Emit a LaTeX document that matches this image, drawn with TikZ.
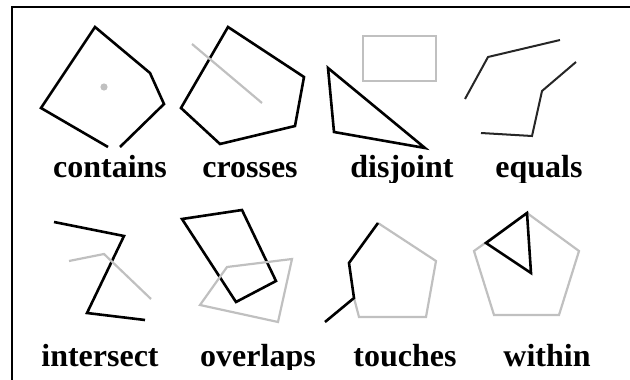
\documentclass[tikz,border=0pt]{standalone}
\usepackage{fontspec}
\setmainfont{Liberation Serif}
\definecolor{lightgrey}{RGB}{192,192,192}
\tikzset{
  shp/.style={line width=2.6pt, line join=miter},
  greyshp/.style={line width=2.2pt, draw=lightgrey},
  word/.style={font=\fontsize{32}{32}\selectfont\bfseries, anchor=base, inner sep=0pt},
}

\begin{document}
\begin{tikzpicture}[x=1pt, y=-1pt]
\useasboundingbox (0,0) rectangle (630,380);
% Frame
\draw[line width=2pt] (11.5,380) -- (11.5,7) -- (630,7);

% contains
\draw[shp] (108,147) -- (41,108) -- (95,27) -- (150,73) -- (164,104) -- (120,147);
\fill[lightgrey] (104,87) circle (3.6);

% crosses
\draw[shp] (228,27) -- (304,77) -- (295,126) -- (220,144) -- (181,108) -- cycle;
\draw[greyshp] (192,44) -- (262,103);

% disjoint
\draw[greyshp] (363,36) rectangle (436,81);
\draw[shp] (328,68) -- (334,132) -- (425,148) -- cycle;

% equals
\draw[shp, line width=2pt, black!85] (465,99) -- (488,57) -- (560,40);
\draw[shp, line width=2pt, black!85] (576,62) -- (542,91) -- (532,136) -- (481,133);

% intersect
\draw[shp] (54,222) -- (124,236) -- (87,313) -- (145,320);
\draw[greyshp] (69,261) -- (104,254) -- (151,299);

% overlaps
\draw[shp] (182,219) -- (242,210) -- (276,281) -- (236,302) -- cycle;
\draw[greyshp] (227,267) -- (292,259) -- (278,322) -- (200,305) -- cycle;

% touches
\draw[greyshp] (378,223) -- (436,261) -- (426,317) -- (359,317) -- (354,298);
\draw[shp] (325,322) -- (354,298) -- (349,263) -- (378,223);

% within
\draw[greyshp] (527,213) -- (579,251) -- (559,315) -- (494,315) -- (474,251) -- cycle;
\draw[shp] (527,213) -- (486,243) -- (531,273) -- cycle;

% Labels
\begin{scope}
\clip (0,0) rectangle (630,182);
\foreach \x/\word in {110/contains, 250/crosses, 402/disjoint, 539/equals} {
   \node[word] (l\word) at (\x,177) {\word};
}
\end{scope}
\begin{scope}
\clip (0,190) rectangle (630,369);
\foreach \x/\word in {100/intersect, 258/overlaps, 405/touches, 547/within} {
   \node[word] (l\word) at (\x,366) {\word};
}
\end{scope}
\end{tikzpicture}
\end{document}
